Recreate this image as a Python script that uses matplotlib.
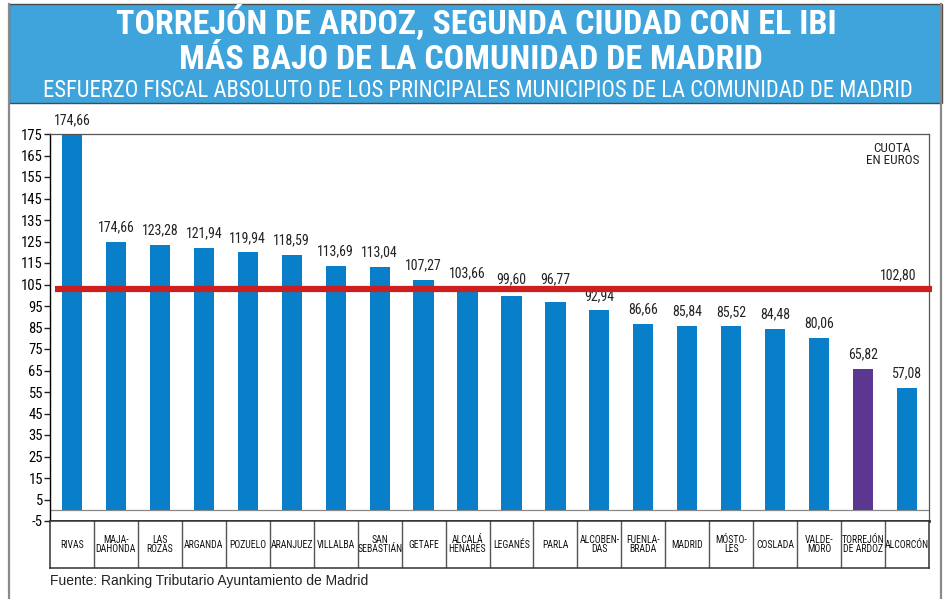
import matplotlib
matplotlib.use("Agg")
import matplotlib.pyplot as plt
from matplotlib import font_manager
from matplotlib.patches import Rectangle
from matplotlib.lines import Line2D
import numpy as np

# data
municipios = ['RIVAS', 'MAJA-\nDAHONDA', 'LAS\nROZAS', 'ARGANDA', 'POZUELO', 'ARANJUEZ',
              'VILLALBA', 'SAN\nSEBASTIÁN', 'GETAFE', 'ALCALÁ\nHENARES', 'LEGANÉS', 'PARLA',
              'ALCOBEN-\nDAS', 'FUENLA-\nBRADA', 'MADRID', 'MÓSTO-\nLES', 'COSLADA',
              'VALDE-\nMORO', 'TORREJÓN\nDE ARDOZ', 'ALCORCÓN']
cuota = [174.66, 124.66, 123.28, 121.94, 119.94, 118.59, 113.69, 113.04, 107.27, 103.66,
         99.60, 96.77, 92.94, 86.66, 85.84, 85.52, 84.48, 80.06, 65.82, 57.08]
# printed labels (the original prints 174,66 over Majadahonda too)
etiquetas = ['174,66', '174,66', '123,28', '121,94', '119,94', '118,59', '113,69', '113,04',
             '107,27', '103,66', '99,60', '96,77', '92,94', '86,66', '85,84', '85,52',
             '84,48', '80,06', '65,82', '57,08']
media = 102.80
y_ticks = list(range(-5, 176, 10))


def pick(names):
    for n in names:
        try:
            font_manager.findfont(n, fallback_to_default=False)
            return n
        except Exception:
            pass
    return 'DejaVu Sans'


NARROW = pick(['Liberation Sans Narrow', 'Roboto Condensed', 'Liberation Sans'])
SANS = pick(['Liberation Sans', 'Arial', 'DejaVu Sans'])

W, H = 946, 599
fig = plt.figure(figsize=(W / 100, H / 100), dpi=100)


def fx(px):
    return px / W


def fy(py):
    return 1 - py / H


BLUE = '#0a7fc9'
PURPLE = '#5b3791'
RED = '#cc1f1f'

# outer frame and banner
fig.add_artist(Line2D([fx(9), fx(9)], [fy(4), fy(599)], color='#8a8a8a', lw=1.6))
fig.add_artist(Line2D([fx(941), fx(941)], [fy(4), fy(599)], color='#8a8a8a', lw=1.6))
fig.add_artist(Rectangle((fx(9), fy(103)), fx(942) - fx(9), fy(4) - fy(103),
                         facecolor='#3fa4dc', edgecolor='#4a4a4a', lw=1.0,
                         transform=fig.transFigure))

fig.text(fx(476), fy(23), 'TORREJÓN DE ARDOZ, SEGUNDA CIUDAD CON EL IBI',
         ha='center', va='center', color='white', fontsize=24.5, fontweight='black',
         family=NARROW)
fig.text(fx(471), fy(60), 'MÁS BAJO DE LA COMUNIDAD DE MADRID',
         ha='center', va='center', color='white', fontsize=24.5, fontweight='black',
         family=NARROW)
fig.text(fx(478), fy(90), 'ESFUERZO FISCAL ABSOLUTO DE LOS PRINCIPALES MUNICIPIOS DE LA COMUNIDAD DE MADRID',
         ha='center', va='center', color='white', fontsize=16.3, family=NARROW)

# main axes
ax = fig.add_axes([fx(50), fy(521), fx(929) - fx(50), fy(134) - fy(521)])
x = np.arange(len(cuota))
colors = [PURPLE if m.startswith('TORREJ') else BLUE for m in municipios]
ax.bar(x, cuota, width=0.46, color=colors, zorder=2)
ax.set_xlim(-0.5, len(cuota) - 0.5)
ax.set_ylim(-5, 175)
ax.set_yticks(y_ticks)
ax.set_yticklabels([str(t) for t in y_ticks], family=NARROW, fontsize=10.5)
ax.tick_params(axis='y', length=4, width=1, pad=1, color='#222')
ax.set_xticks([])
for s in ['top', 'right']:
    ax.spines[s].set_color('#555')
    ax.spines[s].set_linewidth(0.9)
ax.spines['left'].set_linewidth(1.0)
ax.spines['bottom'].set_linewidth(2.0)
ax.spines['bottom'].set_color('#333')
ax.axhline(0, color='#888', lw=0.9, zorder=1)

# value labels, kept off the red average line
gap, txt_h, half_line = 3.5, 4.6, 1.2
for xi, v, lab in zip(x, cuota, etiquetas):
    y0 = v + gap
    if y0 < media + half_line and y0 + txt_h > media - half_line:
        up = media + half_line - y0
        down = y0 + txt_h - (media - half_line)
        if y0 - down >= v + 0.5 and down < up:
            y0 -= down
        else:
            y0 += up
    ax.text(xi, y0, lab, ha='center', va='bottom', fontsize=10, family=NARROW,
            color='#222')

# average line, runs slightly past the right spine
ax.plot([-0.38, 19.57], [media, media], color=RED, lw=4.5, zorder=3, clip_on=False,
        solid_capstyle='butt')
ax.text(19.22, media + 3.2, '102,80', ha='right', va='bottom', fontsize=10, family=NARROW,
        color='#222')
ax.text(19.27, 171.5, 'CUOTA\nEN EUROS', ha='right', va='top', fontsize=9.5, family=NARROW,
        multialignment='center', linespacing=0.95, color='#222')

# category boxes
axc = fig.add_axes([fx(50), fy(568), fx(929) - fx(50), fy(521) - fy(568)])
axc.set_xlim(-0.5, len(cuota) - 0.5)
axc.set_ylim(0, 1)
axc.set_xticks([])
axc.set_yticks([])
for s in axc.spines.values():
    s.set_linewidth(1.1)
    s.set_color('#333')
for b in np.arange(0.5, len(cuota) - 0.5, 1):
    axc.axvline(b, color='#555', lw=1.0)
for xi, m in zip(x, municipios):
    axc.text(xi, 0.5, m, ha='center', va='center', fontsize=7.0, family=NARROW,
             linespacing=0.85, color='#111')

fig.text(fx(50), fy(581), 'Fuente: Ranking Tributario Ayuntamiento de Madrid',
         ha='left', va='center', fontsize=10, family=SANS, color='#222')

fig.savefig('out.png', dpi=100)
